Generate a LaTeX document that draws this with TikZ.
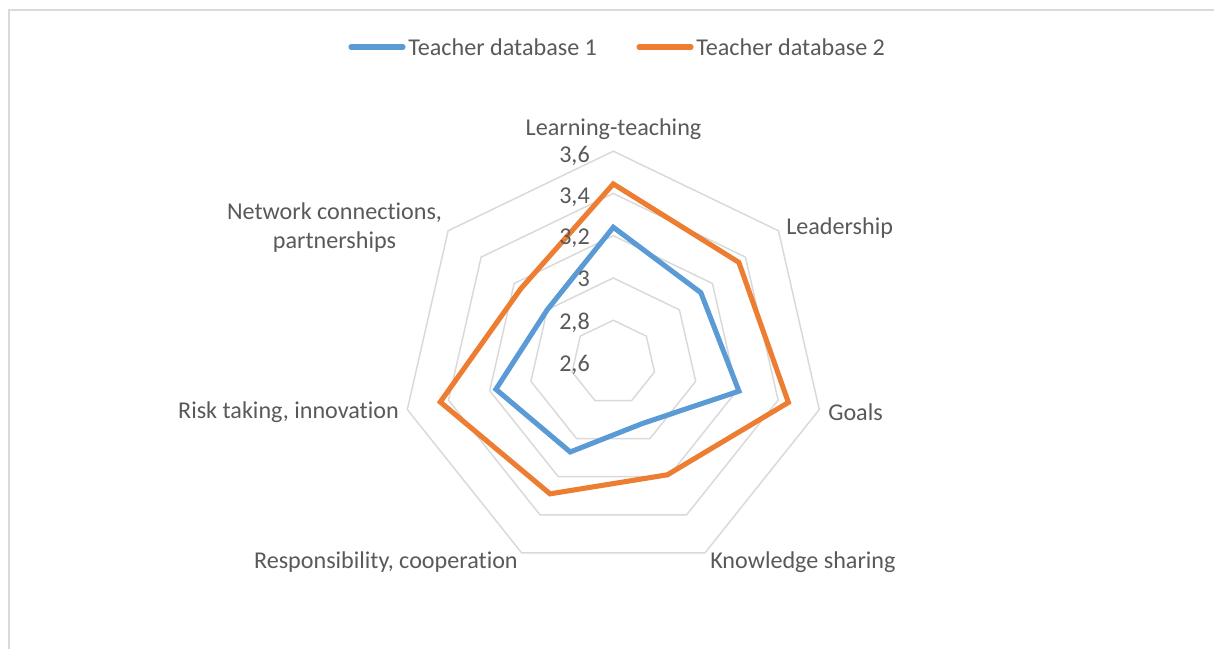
\documentclass[tikz,border=0pt]{standalone}
\usepackage{fontspec}
\setmainfont{Carlito}[Ligatures=NoCommon]
\usetikzlibrary{calc}
\definecolor{txt}{HTML}{595959}
\definecolor{grid}{HTML}{D9D9D9}
\definecolor{sblue}{HTML}{5B9BD5}
\definecolor{sorange}{HTML}{ED7D31}
\definecolor{frame}{HTML}{D9D9D9}
\tikzset{
  lbl/.style={text=txt, font=\fontsize{18.1}{21.5}\selectfont, inner sep=0pt},
  gridline/.style={draw=grid, line width=1.1pt, line join=miter},
  series/.style={line width=3.8pt, line join=miter},
  legline/.style={line width=3.8pt, line cap=round},
}
\newcommand{\cx}{613.3}
\newcommand{\cy}{286.5}
\newcommand{\U}{211.3}
\newcommand{\ang}[1]{90-#1*360/7}
\begin{document}
\begin{tikzpicture}[x=0.75pt,y=0.75pt]
\useasboundingbox (0,0) rectangle (1214,649);
\coordinate (C) at (\cx,\cy);
% frame
\draw[draw=frame, line width=1.5pt] (9,0) -- (9,639) -- (1214,639);
% grid heptagons
\foreach \lev in {1,...,5}{
  \draw[gridline] ($(C)+({\ang{0}}:{\lev*0.2*\U})$)
    \foreach \k in {1,...,6}{ -- ($(C)+({\ang{\k}}:{\lev*0.2*\U})$) } -- cycle;
}
% series 1
\draw[series, draw=sblue]
  ($(C)+({\ang{0}}:{(3.24-2.6)*\U})$) --
  ($(C)+({\ang{1}}:{(3.13-2.6)*\U})$) --
  ($(C)+({\ang{2}}:{(3.21-2.6)*\U})$) --
  ($(C)+({\ang{3}}:{(2.92-2.6)*\U})$) --
  ($(C)+({\ang{4}}:{(3.07-2.6)*\U})$) --
  ($(C)+({\ang{5}}:{(3.17-2.6)*\U})$) --
  ($(C)+({\ang{6}}:{(3.00-2.6)*\U})$) -- cycle;
% series 2
\draw[series, draw=sorange]
  ($(C)+({\ang{0}}:{(3.445-2.6)*\U})$) --
  ($(C)+({\ang{1}}:{(3.36-2.6)*\U})$) --
  ($(C)+({\ang{2}}:{(3.45-2.6)*\U})$) --
  ($(C)+({\ang{3}}:{(3.19-2.6)*\U})$) --
  ($(C)+({\ang{4}}:{(3.29-2.6)*\U})$) --
  ($(C)+({\ang{5}}:{(3.44-2.6)*\U})$) --
  ($(C)+({\ang{6}}:{(3.16-2.6)*\U})$) -- cycle;
% axis value labels
\node[lbl, anchor=east] (v26) at (590,284) {2,6};
\node[lbl, anchor=east] (v28) at (590,326) {2,8};
\node[lbl, anchor=east] (v30) at (590,370) {3};
\node[lbl, anchor=east] (v32) at (590,411) {3,2};
\node[lbl, anchor=east] (v34) at (590,452) {3,4};
\node[lbl, anchor=east] (v36) at (590,493) {3,6};
% category labels
\node[lbl] (lt) at (613.5,520) {Learning-teaching};
\node[lbl, anchor=west] (ld) at (786,421) {Leadership};
\node[lbl, anchor=west] (gl) at (828,237) {Goals};
\node[lbl, anchor=west] (ks) at (710,87) {Knowledge sharing};
\node[lbl, anchor=east] (rc) at (518,87) {Responsibility, cooperation};
\node[lbl, anchor=east] (rt) at (399,237) {Risk taking, innovation};
\node[lbl, align=center] (nc) at (334.5,421.5) {Network connections,\\partnerships};
% legend
\coordinate (b1) at (351,602);
\coordinate (b2) at (403,602);
\coordinate (o1) at (639,602);
\coordinate (o2) at (691,602);
\draw[legline, draw=sblue] (b1) -- (b2);
\draw[legline, draw=sorange] (o1) -- (o2);
\node[lbl, anchor=west] (t1) at (408,601.5) {Teacher database 1};
\node[lbl, anchor=west] (t2) at (696,601.5) {Teacher database 2};
\end{tikzpicture}
\end{document}
